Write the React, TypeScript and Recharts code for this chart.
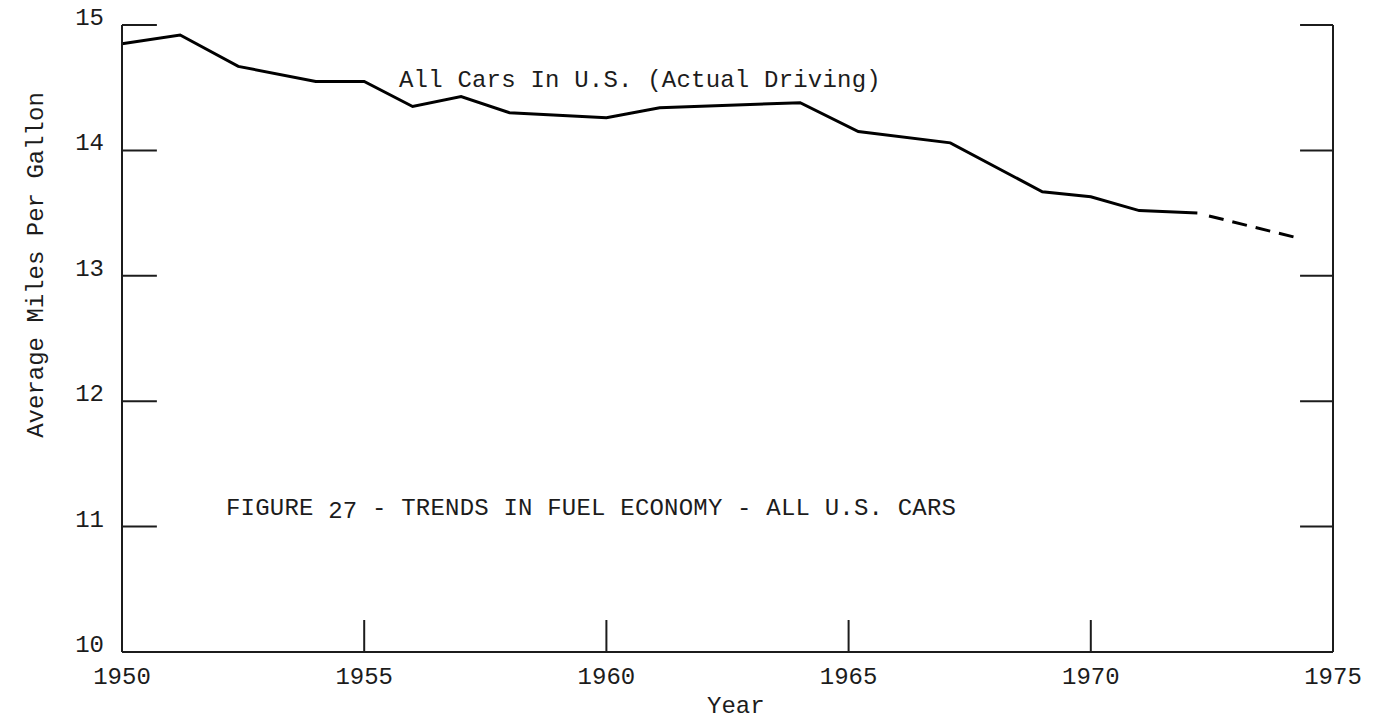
import { LineChart, Line, XAxis, YAxis, ReferenceLine } from "recharts";

// (x = year, y = average mpg)
const actualYears = [1950, 1951.2, 1952.4, 1954, 1955, 1956, 1957, 1958, 1960, 1961.1, 1964, 1965.2, 1967.1, 1969, 1970, 1971, 1972.2];
const actualMpg = [14.85, 14.92, 14.67, 14.55, 14.55, 14.35, 14.43, 14.3, 14.26, 14.34, 14.38, 14.15, 14.06, 13.67, 13.63, 13.52, 13.5];
const projYears = [1972.2, 1974.4];
const projMpg = [13.5, 13.29];

const xTicks = [1950, 1955, 1960, 1965, 1970, 1975];
const yTicks = [10, 11, 12, 13, 14, 15];
const innerXTicks = [1955, 1960, 1965, 1970];
const sideYTicks = [11, 12, 13, 14, 15];

const actual = actualYears.map((year, i) => ({ year, mpg: actualMpg[i] }));
const projected = projYears.map((year, i) => ({ year, mpg: projMpg[i] }));

const FONT = "'Liberation Mono', 'DejaVu Sans Mono', monospace";
const INK = "#1c1c1c";

const W = 1378;
const H = 720;

function YTick(props: any) {
  const { x, y, payload } = props;
  return (
    <text x={x} y={y} textAnchor="end" fontFamily={FONT} fontSize={24} fill={INK}>
      {payload.value}
    </text>
  );
}

export default function App() {
  return (
    <div style={{ position: "absolute", left: 0, top: 0, width: W, height: H, background: "#fff" }}>
      <LineChart width={W} height={H} margin={{ top: 25, right: 45, bottom: 28, left: 62 }}>
        <XAxis
          dataKey="year"
          type="number"
          domain={[1950, 1975]}
          ticks={xTicks}
          height={40}
          tickLine={false}
          tickSize={8}
          tickMargin={7}
          axisLine={{ stroke: INK, strokeWidth: 2 }}
          tick={{ fontFamily: FONT, fontSize: 24, fill: INK }}
        />
        <YAxis
          type="number"
          domain={[10, 15]}
          ticks={yTicks}
          width={60}
          tickLine={false}
          tickSize={10}
          tickMargin={8}
          axisLine={{ stroke: INK, strokeWidth: 2 }}
          tick={<YTick />}
        />
        <ReferenceLine x={1975} stroke={INK} strokeWidth={2} />
        {sideYTicks.map((v) => (
          <ReferenceLine
            key={"l" + v}
            segment={[{ x: 1950, y: v }, { x: 1950.72, y: v }]}
            stroke={INK}
            strokeWidth={2}
          />
        ))}
        {sideYTicks.map((v) => (
          <ReferenceLine
            key={"r" + v}
            segment={[{ x: 1974.32, y: v }, { x: 1975, y: v }]}
            stroke={INK}
            strokeWidth={2}
          />
        ))}
        {innerXTicks.map((yr) => (
          <ReferenceLine
            key={"b" + yr}
            segment={[{ x: yr, y: 10 }, { x: yr, y: 10.255 }]}
            stroke={INK}
            strokeWidth={2}
          />
        ))}
        <Line
          data={actual}
          dataKey="mpg"
          type="linear"
          stroke="#000"
          strokeWidth={3}
          dot={false}
          isAnimationActive={false}
        />
        <Line
          data={projected}
          dataKey="mpg"
          type="linear"
          stroke="#000"
          strokeWidth={3}
          strokeDasharray="0 12 15 9 15 9 15 9 15 100"
          dot={false}
          isAnimationActive={false}
        />
      </LineChart>
      <svg
        width={W}
        height={H}
        style={{ position: "absolute", left: 0, top: 0, pointerEvents: "none" }}
        fontFamily={FONT}
        fontSize={24}
        fill={INK}
      >
        <text x={399} y={87} letterSpacing={0.2}>All Cars In U.S. (Actual Driving)</text>
        <text x={226} y={515} letterSpacing={0.2}>
          FIGURE <tspan dy={3}>27</tspan>
          <tspan dy={-3}> - TRENDS IN FUEL ECONOMY - ALL U.S. CARS</tspan>
        </text>
        <text x={707} y={713}>Year</text>
        <text x={43} y={265} textAnchor="middle" transform="rotate(-90 43 265)">
          Average Miles Per Gallon
        </text>
      </svg>
    </div>
  );
}
